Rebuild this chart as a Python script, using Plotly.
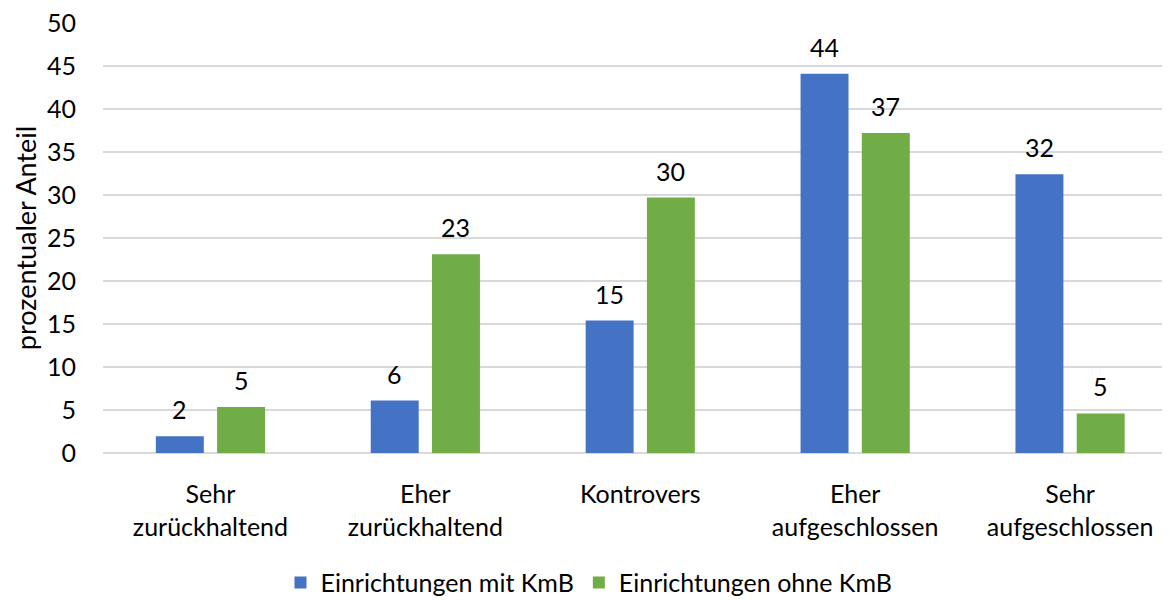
import plotly.graph_objects as go

categories = ["Sehr<br>zurückhaltend", "Eher<br>zurückhaltend", "Kontrovers",
              "Eher<br>aufgeschlossen", "Sehr<br>aufgeschlossen"]
mit_kmb = [1.95, 6.1, 15.4, 44.1, 32.4]
ohne_kmb = [5.35, 23.1, 29.7, 37.2, 4.6]
series_names = ["Einrichtungen mit KmB", "Einrichtungen ohne KmB"]
y_max = 50
y_step = 5

FONT = "Lato"
FS = 25
bargap = 0.43

fig = go.Figure()
for name, vals, col in [(series_names[0], mit_kmb, "#4472C4"),
                        (series_names[1], ohne_kmb, "#70AD47")]:
    fig.add_trace(go.Bar(x=categories, y=vals, name=name, marker_color=col,
                         marker_line_width=0))

# data labels above bars (rounded like the original)
off = (1 - bargap) / 4
for k, vals in enumerate([mit_kmb, ohne_kmb]):
    sign = -1 if k == 0 else 1
    for i, v in enumerate(vals):
        fig.add_annotation(x=i + sign * off, y=v, text=str(round(v)),
                           showarrow=False, yanchor="bottom", yshift=10,
                           font=dict(family=FONT, size=FS, color="black"))

# page body has an 8px margin, so the figure is a bit smaller than the window
fig.update_layout(
    width=1162, height=592,
    barmode="group", bargap=bargap, bargroupgap=0.217,
    plot_bgcolor="white", paper_bgcolor="white",
    margin=dict(l=95, r=0, t=15, b=147, autoexpand=False),
    font=dict(family=FONT, size=FS, color="black"),
    xaxis=dict(range=[-0.5, 4.465], showgrid=False, showline=False, automargin=False,
               tickfont=dict(size=FS), ticklabelstandoff=24),
    yaxis=dict(range=[0, y_max], tickmode="linear", tick0=0, dtick=y_step,
               gridcolor="#d9d9d9", gridwidth=2, ticklabeloverflow="allow",
               zeroline=True, zerolinecolor="#d9d9d9", zerolinewidth=2, automargin=False,
               tickfont=dict(size=FS), ticklabelstandoff=26,
               title=dict(text="prozentualer Anteil", font=dict(size=27), standoff=2)),
    legend=dict(orientation="h", xref="container", x=0.5, xanchor="center",
                yref="paper", y=-0.302, yanchor="middle",
                font=dict(size=FS), itemwidth=30, tracegroupgap=0),
    showlegend=True,
)

fig.write_html("out.html")
